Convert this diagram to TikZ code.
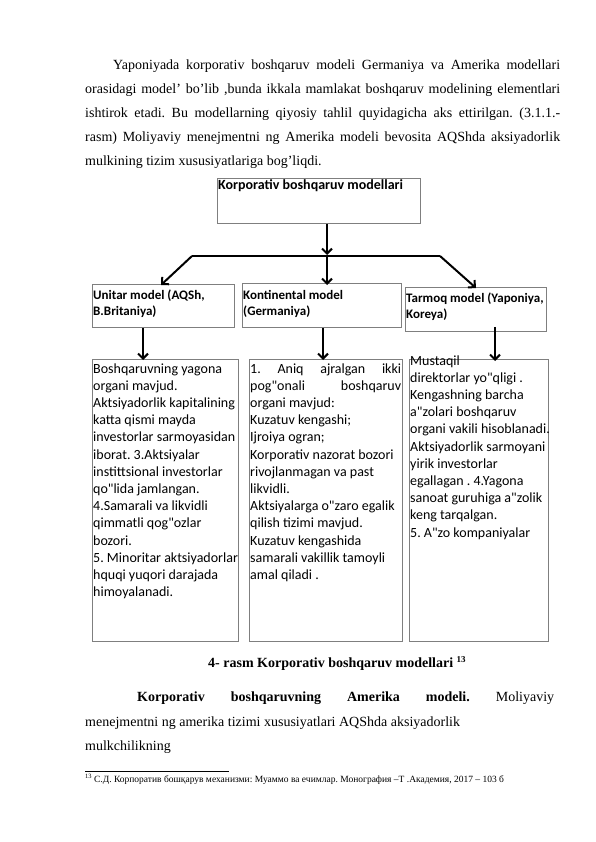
\documentclass[tikz,border=0pt]{standalone}
\usepackage{fontspec}
\setmainfont{Liberation Serif}
\newfontfamily\calibrifont{Carlito}
\usetikzlibrary{arrows.meta}
\definecolor{boxgrey}{HTML}{7F7F7F}
\frenchspacing
\newcommand\bodyfont{\fontsize{14}{24}\selectfont}
\newcommand\boxtextfont{\calibrifont\fontsize{14}{17.2}\selectfont}
\newcommand\headfont{\calibrifont\bfseries\fontsize{13}{16}\selectfont}
\newcommand\titlefont{\calibrifont\bfseries\fontsize{14}{17}\selectfont}
\begin{document}
\begin{tikzpicture}[x=1pt,y=-1pt,
  box/.style={draw=boxgrey, line width=0.8pt, inner sep=0pt, anchor=north west},
  txt/.style={inner sep=0pt, anchor=base west},
  arr/.style={line width=2pt, -{Straight Barb[length=5pt,width=10pt]}},
  conn/.style={line width=2pt}]
\useasboundingbox (0,0) rectangle (595,842);
\fill[white] (0,0) rectangle (595,842);

% paragraph 1
\node[txt] (p1) at (113,70) {\bodyfont\makebox[447pt][s]{Yaponiyada korporativ boshqaruv modeli Germaniya va Amerika modellari}};
\node[txt] (p2) at (85,94) {\bodyfont\makebox[475pt][s]{orasidagi model’ bo’lib ,bunda ikkala mamlakat boshqaruv modelining elementlari}};
\node[txt] (p3) at (85,118) {\bodyfont\makebox[475pt][s]{ishtirok etadi. Bu modellarning qiyosiy tahlil quyidagicha aks ettirilgan. (3.1.1.-}};
\node[txt] (p4) at (85,142) {\bodyfont\makebox[475pt][s]{rasm) Moliyaviy menejmentni ng Amerika modeli bevosita AQShda aksiyadorlik}};
\node[txt] (p5) at (85,166) {\bodyfont mulkining tizim xususiyatlariga bog’liqdi.};

% top box
\node[box, minimum width=203pt, minimum height=45pt] (top) at (217,178) {};
\node[txt] (topt) at (218,190) {\titlefont Korporativ boshqaruv modellari};

% junction line
\coordinate (jL) at (192,256);
\coordinate (jC) at (327,256);
\coordinate (jR) at (440,256);
\draw[arr] (top.south -| jC) -- ([yshift=1pt]jC);
\draw[conn] (jL) -- (jR);

% level 2 boxes
\node[box, minimum width=142pt, minimum height=43pt] (b1) at (92,284) {};
\node[box, minimum width=159pt, minimum height=44pt] (b2) at (242,283) {};
\node[box, minimum width=141pt, minimum height=44pt] (b3) at (405,287) {};
\node[txt] (b1t) at (93,299) {\headfont\begin{minipage}[t]{140pt}Unitar model (AQSh,\\B.Britaniya)\end{minipage}};
\node[txt] (b2t) at (243,299) {\headfont\begin{minipage}[t]{150pt}Kontinental model\\(Germaniya)\end{minipage}};
\node[txt] (b3t) at (406,302) {\headfont\begin{minipage}[t]{140pt}Tarmoq model (Yaponiya,\\Koreya)\end{minipage}};

\draw[arr] (jL) -- ([xshift=69pt,yshift=-1pt]b1.north west);
\draw[arr] (jC) -- ([xshift=85pt,yshift=-2pt]b2.north west);
\draw[arr] (jR) -- ([xshift=71pt,yshift=-1pt]b3.north west);

% level 3 boxes
\node[box, minimum width=146pt, minimum height=282pt] (c1) at (92,359) {};
\node[box, minimum width=153pt, minimum height=282pt] (c2) at (249,359) {};
\node[box, minimum width=139pt, minimum height=282pt] (c3) at (409,359) {};

\draw[arr] ([xshift=51pt]b1.south west) -- ([xshift=51pt,yshift=-1pt]c1.north west);
\draw[arr] ([xshift=81pt]b2.south west) -- ([xshift=74pt,yshift=-1pt]c2.north west);
\draw[arr] ([xshift=90pt,yshift=5pt]b3.south west) -- ([xshift=86pt,yshift=-2pt]c3.north west);

\node[txt] (c1t) at (93,373) {\boxtextfont\begin{minipage}[t]{146pt}\raggedright
Boshqaruvning yagona\\
organi mavjud.\\
Aktsiyadorlik kapitalining\\
katta qismi mayda\\
investorlar sarmoyasidan\\
iborat. 3.Aktsiyalar\\
instittsional investorlar\\
qo"lida jamlangan.\\
4.Samarali va likvidli\\
qimmatli qog"ozlar\\
bozori.\\
5. Minoritar aktsiyadorlar\\
hquqi yuqori darajada\\
himoyalanadi.\end{minipage}};

\node[txt] (c2t) at (250,373) {\boxtextfont\begin{minipage}[t]{151pt}\raggedright
\makebox[151pt][s]{1. Aniq ajralgan ikki}\\
\makebox[151pt][s]{pog"onali boshqaruv}\\
organi mavjud:\\
Kuzatuv kengashi;\\
Ijroiya ogran;\\
Korporativ nazorat bozori\\
rivojlanmagan va past\\
likvidli.\\
Aktsiyalarga o"zaro egalik\\
qilish tizimi mavjud.\\
Kuzatuv kengashida\\
samarali vakillik tamoyli\\
amal qiladi .\end{minipage}};

\node[txt] (c3t) at (410,365) {\boxtextfont\begin{minipage}[t]{140pt}\raggedright
Mustaqil\\
direktorlar yo"qligi .\\
Kengashning barcha\\
a"zolari boshqaruv\\
organi vakili hisoblanadi.\\
Aktsiyadorlik sarmoyani\\
yirik investorlar\\
egallagan . 4.Yagona\\
sanoat guruhiga a"zolik\\
keng tarqalgan.\\
5. A"zo kompaniyalar\end{minipage}};

% caption
\node[txt] (cap) at (208,667) {\bodyfont\bfseries 4- rasm Korporativ boshqaruv modellari {\fontsize{9}{10}\selectfont\raisebox{5pt}{13}}};

% paragraph 2
\node[txt] (q1) at (137,701) {\bodyfont\makebox[417pt][s]{\textbf{Korporativ boshqaruvning Amerika modeli.} Moliyaviy}};
\node[txt] (q2) at (85,726) {\bodyfont menejmentni ng amerika tizimi xususiyatlari AQShda aksiyadorlik};
\node[txt] (q3) at (85,750) {\bodyfont mulkchilikning};

% footnote
\coordinate (fnA) at (85,771);
\coordinate (fnB) at (229,771);
\draw[line width=0.5pt] (fnA) -- (fnB);
\node[txt] (fn) at (85,782) {\fontsize{9.5}{11}\selectfont{\fontsize{6.5}{7}\selectfont\raisebox{3.5pt}{13}} С.Д. Корпоратив бошқарув механизми: Муаммо ва ечимлар. Монография –Т .Академия, 2017 – 103 б};
\end{tikzpicture}
\end{document}
